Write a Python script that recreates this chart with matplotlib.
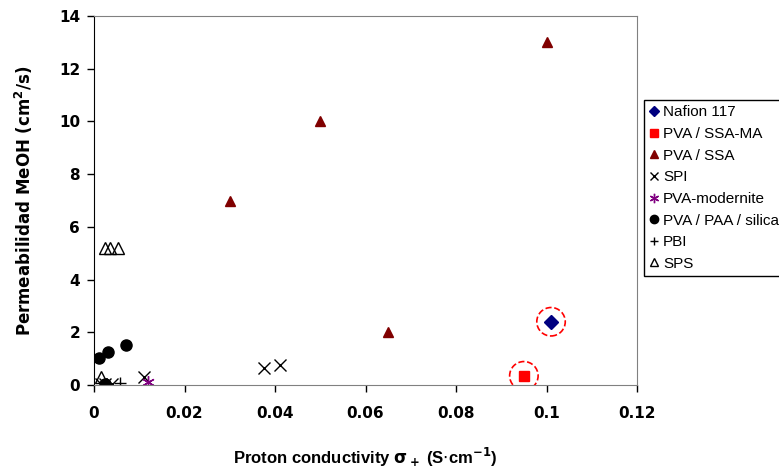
import numpy as np
import matplotlib.pyplot as plt

plt.rcParams['font.family'] = ['Liberation Sans', 'DejaVu Sans']

# data (x: S/cm, y: cm2/s)
nafion_x = [0.101]
nafion_y = [2.4]
ssama_x = [0.095]
ssama_y = [0.35]
ssa_x = [0.030, 0.050, 0.065, 0.100]
ssa_y = [7.0, 10.0, 2.0, 13.0]
spi_x = [0.0015, 0.0025, 0.004, 0.011, 0.0375, 0.041]
spi_y = [0.05, 0.05, 0.05, 0.3, 0.65, 0.75]
mod_x = [0.012]
mod_y = [0.12]
paa_x = [0.0011, 0.003, 0.007, 0.0025]
paa_y = [1.02, 1.25, 1.52, 0.05]
pbi_x = [0.0057]
pbi_y = [0.08]
sps_x = [0.0015, 0.0024, 0.0035, 0.0053]
sps_y = [0.3, 5.2, 5.2, 5.2]

x_ticks = [0, 0.02, 0.04, 0.06, 0.08, 0.1, 0.12]
x_labels = ['0', '0.02', '0.04', '0.06', '0.08', '0.1', '0.12']
y_ticks = [0, 2, 4, 6, 8, 10, 12, 14]


def main():
    fig = plt.figure(figsize=(7.79, 4.70), dpi=100)
    ax = fig.add_axes([94 / 779, 85 / 470, 543 / 779, 369 / 470])

    ax.plot(nafion_x, nafion_y, 'D', color='#000080', ms=7, ls='none', label='Nafion 117')
    ax.plot(ssama_x, ssama_y, 's', color='#FF0000', ms=7, ls='none', label='PVA / SSA-MA')
    ax.plot(ssa_x, ssa_y, '^', color='#800000', ms=7, ls='none', label='PVA / SSA')
    ax.plot(spi_x, spi_y, 'x', color='black', ms=8, mew=1, ls='none', label='SPI')
    ax.plot(mod_x, mod_y, marker=(6, 2, 0), color='#800080', ms=9, mew=1, ls='none',
            label='PVA-modernite')
    ax.plot(paa_x, paa_y, 'o', color='black', ms=8, ls='none', label='PVA / PAA / silica')
    ax.plot(pbi_x, pbi_y, '+', color='black', ms=8, mew=1, ls='none', label='PBI')
    ax.plot(sps_x, sps_y, '^', mfc='none', mec='black', ms=8, mew=1, ls='none', label='SPS')

    # dashed circles around the highlighted points
    ax.scatter(nafion_x + ssama_x, nafion_y + ssama_y, s=420, facecolors='none',
               edgecolors='#FF0000', linestyle='--', linewidths=1.2, zorder=5)

    ax.set_xlim(0, 0.12)
    ax.set_ylim(0, 14)
    ax.set_xticks(x_ticks)
    ax.set_xticklabels(x_labels)
    ax.set_yticks(y_ticks)
    for lab in ax.get_xticklabels() + ax.get_yticklabels():
        lab.set_fontweight('bold')
        lab.set_fontsize(11)
        lab.set_family('DejaVu Sans')
    ax.tick_params(axis='x', direction='out', length=5, width=1, pad=10)
    ax.tick_params(axis='y', direction='out', length=5, width=1, pad=5)

    ax.spines['top'].set_color('#808080')
    ax.spines['right'].set_color('#808080')
    ax.spines['bottom'].set_color('#808080')
    ax.spines['left'].set_color('black')

    ax.set_xlabel('Proton conductivity $\\mathbf{\\sigma_+}$ (S$\\cdot$cm$^{\\mathbf{-1}}$)',
                  fontsize=12, fontweight='bold', labelpad=18)
    ax.set_ylabel('Permeabilidad MeOH (cm$^{\\mathbf{2}}$/s)', fontsize=12,
                  fontweight='bold', family='DejaVu Sans', labelpad=17)

    leg = fig.legend(loc='upper left', bbox_to_anchor=(644 / 779, 1 - 100 / 470),
                     fancybox=False, edgecolor='black', fontsize=11, handlelength=0.6,
                     handletextpad=0.3, borderpad=0.35, labelspacing=0.5,
                     borderaxespad=0, markerscale=0.75, framealpha=1)
    leg.get_frame().set_linewidth(1)

    fig.savefig('out.png', dpi=100)


if __name__ == '__main__':
    main()
